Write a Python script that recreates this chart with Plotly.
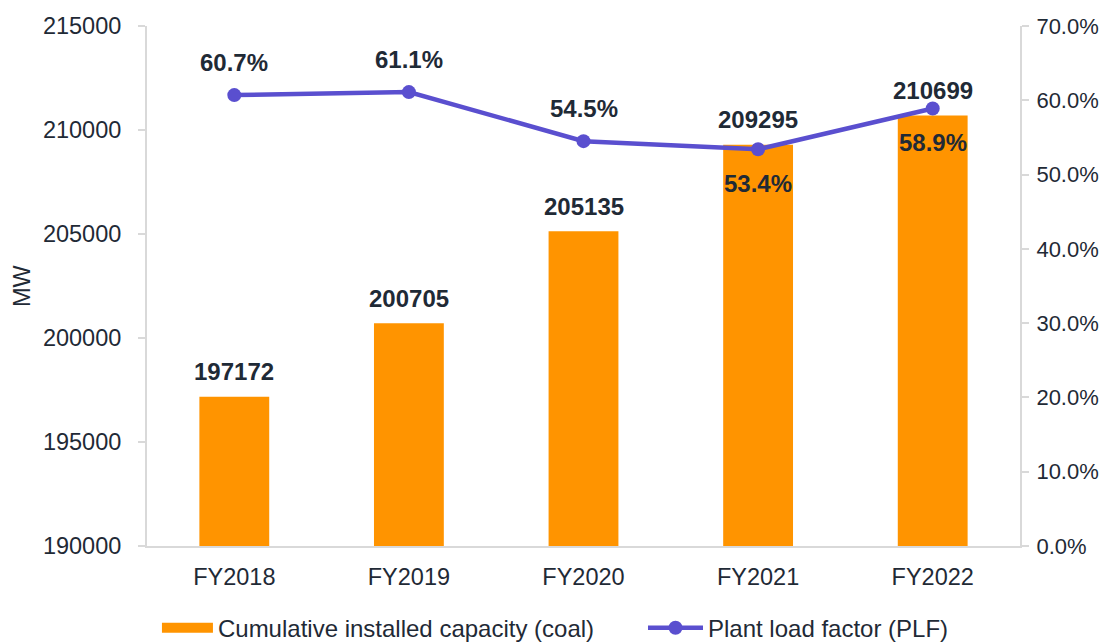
import plotly.graph_objects as go

years = ["FY2018", "FY2019", "FY2020", "FY2021", "FY2022"]
capacity_mw = [197172, 200705, 205135, 209295, 210699]
plf_pct = [60.7, 61.1, 54.5, 53.4, 58.9]
plf_label_above = [True, True, True, False, False]

left_ticks = [190000, 195000, 200000, 205000, 210000, 215000]
right_ticks = [0, 10, 20, 30, 40, 50, 60, 70]
y_title = "MW"

FONT = "Liberation Sans, Arial, sans-serif"
TXT = "#1f2a36"
ORANGE = "#ff9400"
PURPLE = "#5a4fcf"
AXIS = "#d9d9d9"
TICK_SIZE = 23.5
LABEL_SIZE = 24

fig = go.Figure()
fig.add_trace(go.Bar(
    x=years, y=capacity_mw, name="Cumulative installed capacity (coal)",
    marker=dict(color=ORANGE, line=dict(width=0)), width=0.4,
    showlegend=False,
))
# legend proxy for the bar series (wide swatch)
fig.add_trace(go.Scatter(
    x=[None], y=[None], mode="lines", name="Cumulative installed capacity (coal)",
    line=dict(color=ORANGE, width=13), showlegend=True, legend="legend",
))
fig.add_trace(go.Scatter(
    x=years, y=plf_pct, name="Plant load factor (PLF)", yaxis="y2",
    mode="lines+markers", legend="legend2",
    line=dict(color=PURPLE, width=4.5), marker=dict(color=PURPLE, size=14),
    cliponaxis=False,
))

for yr, v in zip(years, capacity_mw):
    fig.add_annotation(x=yr, y=v, xref="x", yref="y", text=f"<b>{v}</b>",
                       showarrow=False, yshift=25, yanchor="middle",
                       font=dict(family=FONT, size=LABEL_SIZE, color=TXT))
for yr, v, above in zip(years, plf_pct, plf_label_above):
    fig.add_annotation(x=yr, y=v, xref="x", yref="y2", text=f"<b>{v:.1f}%</b>",
                       showarrow=False, yshift=33 if above else -34, yanchor="middle",
                       font=dict(family=FONT, size=LABEL_SIZE, color=TXT))

# y-axis title
fig.add_annotation(x=0, y=0.5, xref="paper", yref="paper", text=y_title,
                   textangle=-90, showarrow=False, xanchor="center", yanchor="middle",
                   xshift=-125, font=dict(family=FONT, size=TICK_SIZE, color=TXT))

legend_common = dict(orientation="h", xanchor="left", yref="paper", y=-0.158,
                     yanchor="middle", font=dict(size=24, color=TXT),
                     bgcolor="rgba(0,0,0,0)")

fig.update_layout(
    width=1092, height=635,
    margin=dict(l=139, r=80, t=18, b=97, autoexpand=False),
    plot_bgcolor="white", paper_bgcolor="white",
    font=dict(family=FONT, size=TICK_SIZE, color=TXT),
    showlegend=True,
    legend=dict(xref="container", x=0.1364, itemwidth=51, **legend_common),
    legend2=dict(xref="container", x=0.5815, itemwidth=55, **legend_common),
    xaxis=dict(showline=True, linecolor=AXIS, linewidth=2, ticks="outside",
               tickcolor="rgba(0,0,0,0)", ticklen=9, showgrid=False, automargin=False,
               tickfont=dict(size=TICK_SIZE, color=TXT), range=[-0.5, 4.5]),
    yaxis=dict(range=[190000, 215000], tickvals=left_ticks,
               ticktext=[str(v) for v in left_ticks], showgrid=False,
               showline=True, linecolor=AXIS, linewidth=2, ticks="outside",
               tickcolor=AXIS, ticklen=7, tickwidth=2, zeroline=False, automargin=False,
               ticklabelstandoff=12,
               tickfont=dict(size=TICK_SIZE, color=TXT)),
    yaxis2=dict(range=[0, 70], tickvals=right_ticks, ticktext=[f"{v:.1f}%" for v in right_ticks],
                overlaying="y", side="right", showgrid=False, zeroline=False,
                showline=True, linecolor=AXIS, linewidth=2, ticks="outside",
                tickcolor=AXIS, ticklen=7, tickwidth=2, automargin=False,
                ticklabelstandoff=3,
                tickfont=dict(size=22, color=TXT)),
)

fig.write_html("out.html")
